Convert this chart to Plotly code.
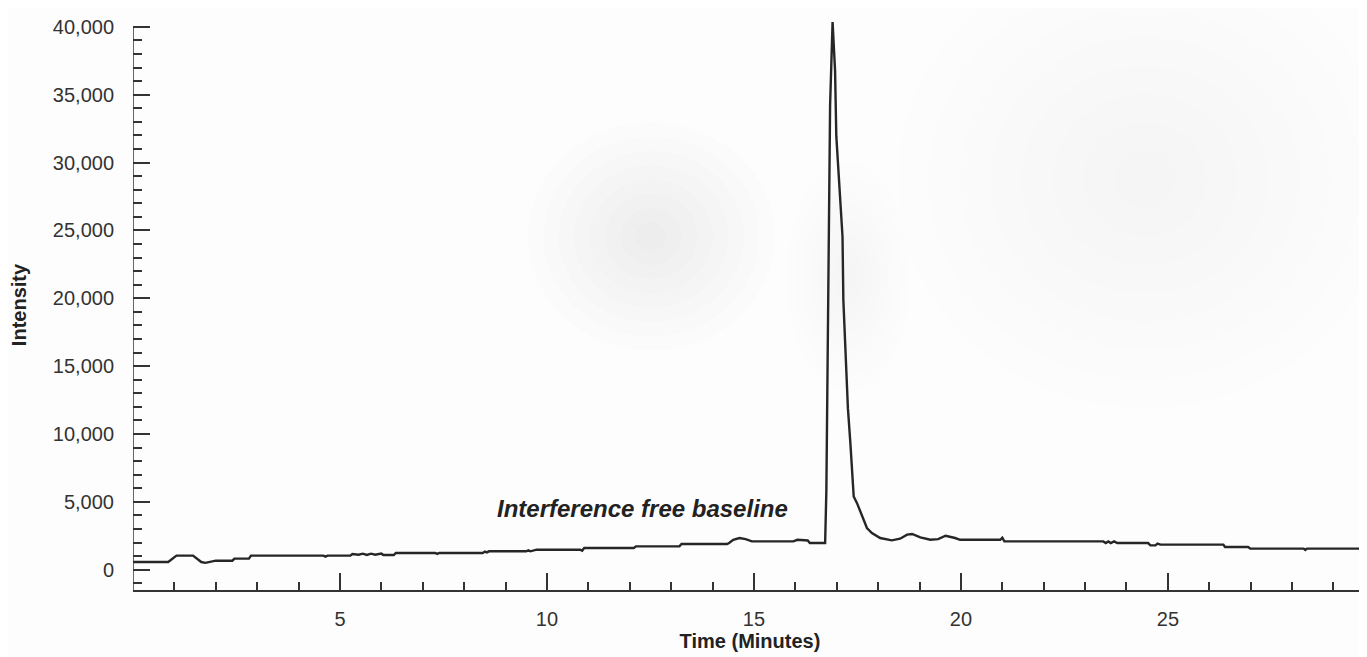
import plotly.graph_objects as go

# Chromatogram (time in minutes, intensity in counts)
time_min = [0, 0.85, 1.05, 1.45, 1.65, 1.75, 2.0, 2.4, 2.45, 2.8, 2.85, 4.6, 4.65, 4.7,
            5.25, 5.3, 5.45, 5.55, 5.65, 5.75, 5.85, 6.0, 6.05, 6.3, 6.35, 7.3, 7.35, 7.4,
            8.45, 8.5, 8.55, 8.6, 9.5, 9.55, 9.6, 9.7, 9.75, 10.8, 10.85, 10.9, 12.1, 12.15,
            13.2, 13.25, 14.35, 14.4, 14.5, 14.65, 14.8, 14.95, 15.95, 16.05, 16.3, 16.35,
            16.72, 16.75, 16.79, 16.84, 16.9, 16.96, 16.99, 17.04, 17.08, 17.14, 17.16, 17.22,
            17.27, 17.33, 17.37, 17.41, 17.49, 17.61, 17.73, 17.85, 18.05, 18.33, 18.53, 18.7,
            18.82, 19.02, 19.26, 19.45, 19.63, 19.86, 19.98, 20.95, 21.0, 21.05, 23.44, 23.5,
            23.56, 23.62, 23.7, 23.78, 24.52, 24.58, 24.7, 24.75, 24.82, 26.34, 26.38, 26.94,
            26.99, 28.28, 28.32, 28.36, 29.81]
intensity = [560, 560, 1030, 1030, 560, 500, 660, 660, 810, 810, 1030, 1030, 960, 1030,
             1030, 1150, 1100, 1180, 1080, 1180, 1100, 1180, 1080, 1080, 1230, 1230, 1160, 1230,
             1230, 1330, 1270, 1350, 1350, 1430, 1350, 1430, 1470, 1470, 1400, 1600, 1600, 1715,
             1715, 1890, 1890, 1960, 2200, 2330, 2250, 2080, 2080, 2200, 2150, 1960,
             1960, 5840, 18280, 34220, 40350, 36750, 31940, 29560, 28170, 24530, 19870, 15330,
             11900, 9325, 7360, 5395, 4900, 3920, 3070, 2700, 2330, 2160, 2280, 2580,
             2630, 2380, 2200, 2250, 2500, 2330, 2200, 2200, 2350, 2080, 2080, 1960,
             2080, 1960, 2080, 1960, 1960, 1790, 1790, 1920, 1840, 1840, 1670, 1670,
             1545, 1545, 1450, 1545, 1545]

x_major = [5, 10, 15, 20, 25]
y_major = [0, 5000, 10000, 15000, 20000, 25000, 30000, 35000, 40000]
y_labels = ["0", "5,000", "10,000", "15,000", "20,000", "25,000", "30,000", "35,000", "40,000"]

annotation_text = "Interference free baseline"
annotation_pos = (12.3, 4540)

FONT = "Liberation Sans, Arial, Helvetica, sans-serif"
AX = "#333333"

fig = go.Figure()

# faint, soft background blobs (decorative backdrop of the reference)
blobs = [  # (cx, cy, rx, ry, alpha) in paper coordinates
    (0.42, 0.62, 0.10, 0.20, 0.011),
    (0.82, 0.72, 0.20, 0.40, 0.006),
    (0.58, 0.55, 0.05, 0.20, 0.006),
]
for cx, cy, rx, ry, a in blobs:
    for k in range(8):
        f = 1 - k / 8
        fig.add_shape(type="circle", xref="paper", yref="paper", layer="below",
                      x0=cx - rx * f, x1=cx + rx * f, y0=cy - ry * f, y1=cy + ry * f,
                      fillcolor="rgba(110,105,100,%.3f)" % a, line=dict(width=0))

fig.add_trace(go.Scatter(x=time_min, y=intensity, mode="lines",
                         line=dict(color="#262626", width=2.4), hoverinfo="x+y",
                         showlegend=False))

fig.add_shape(type="line", xref="x", yref="y", x0=0, x1=0, y0=-1500, y1=40000,
              line=dict(color=AX, width=1.5))

fig.add_annotation(x=annotation_pos[0], y=annotation_pos[1], text="<b><i>%s</i></b>" % annotation_text,
                   showarrow=False, font=dict(family=FONT, size=24, color="#222222"))

# The page body has an 8px default margin, so the figure is sized to fit inside it.
fig.update_layout(
    width=1359, height=649,
    margin=dict(l=125, r=0, t=12, b=67),
    paper_bgcolor="#fdfdfd", plot_bgcolor="rgba(0,0,0,0)",
    font=dict(family=FONT, color=AX),
    xaxis=dict(range=[0, 29.81], automargin=False, showgrid=False, zeroline=False, showline=True,
               linecolor=AX, linewidth=1.5, ticks="inside", ticklen=17, tickwidth=1.5,
               tickcolor=AX, tickvals=x_major, tickfont=dict(size=20, color=AX),
               ticklabelstandoff=10,
               minor=dict(ticks="inside", dtick=1, tick0=0, ticklen=8, tickwidth=1.5,
                          tickcolor=AX, showgrid=False),
               title=dict(text="<b>Time (Minutes)</b>", font=dict(size=20, color="#222222"),
                          standoff=0)),
    yaxis=dict(range=[-1500, 40500], automargin=False, showgrid=False, zeroline=False, showline=False,
               ticks="inside", ticklen=17, tickwidth=1.5, tickcolor=AX,
               tickvals=y_major, ticktext=y_labels, tickfont=dict(size=20, color=AX),
               ticklabelstandoff=18,
               minor=dict(ticks="inside", dtick=1000, tick0=0, ticklen=9, tickwidth=1.5,
                          tickcolor=AX, showgrid=False),
               title=dict(text="<b>Intensity</b>", font=dict(size=20, color="#222222"),
                          standoff=22)),
)

fig.write_html("out.html")
